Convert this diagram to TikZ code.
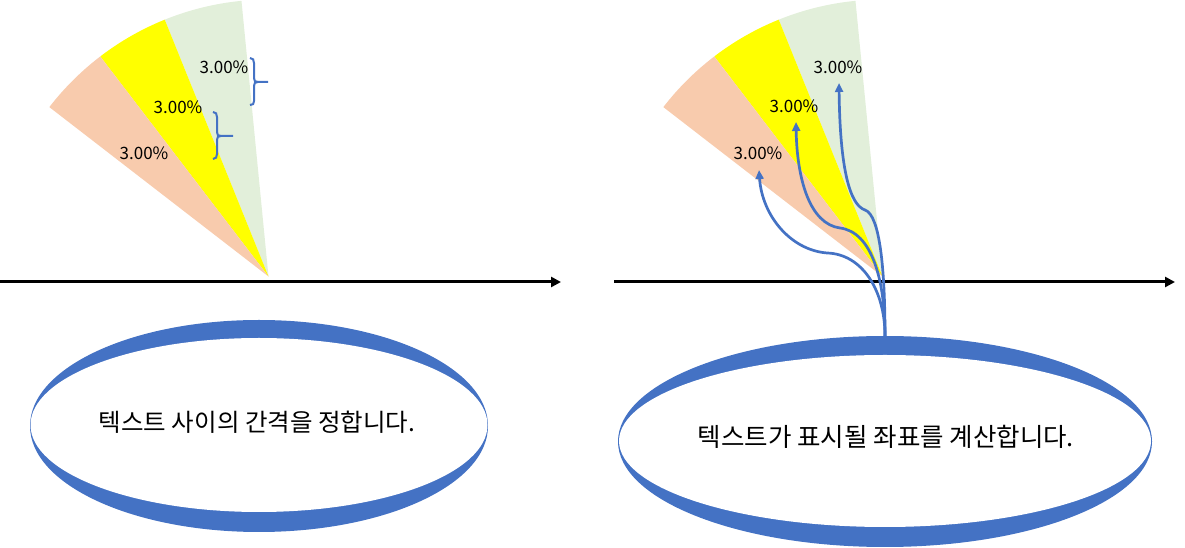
\documentclass[tikz,border=0pt]{standalone}
\usepackage{fontspec}
\newfontfamily\kr{Noto Sans CJK KR}
\usetikzlibrary{arrows.meta,shapes.geometric,calc}
\definecolor{peach}{HTML}{F8CBAD}
\definecolor{yel}{HTML}{FFFF00}
\definecolor{lgreen}{HTML}{E2EFDA}
\definecolor{pblue}{HTML}{4472C4}
\begin{document}
\begin{tikzpicture}[x=1pt,y=1pt,
  pct/.style={font=\kr\fontsize{17}{20}\selectfont, inner sep=0pt},
  axisline/.style={line width=3pt, -{Triangle[length=10pt,width=10pt]}},
  bracepath/.style={draw=pblue, line width=2pt},
  curv/.style={draw=pblue, line width=2.7pt, -{Triangle[length=9pt,width=8pt]}},
  outerell/.style={ellipse, fill=pblue, inner sep=0pt, outer sep=0pt},
  innerell/.style={ellipse, fill=white, inner sep=0pt, outer sep=0pt},
  msg/.style={font=\kr\fontsize{24.5}{28}\selectfont, inner sep=0pt}]
\useasboundingbox (0,0) rectangle (1185,548);

% wedges
\foreach \ax/\nm in {268.5/A, 882.5/B}{
  \coordinate (apex\nm) at (\ax,271.5);
  \fill[lgreen] (apex\nm) -- ++(95.6:277) arc[start angle=95.6,end angle=112,radius=277] -- cycle;
  \fill[yel] (apex\nm) -- ++(112:277) arc[start angle=112,end angle=127.4,radius=277] -- cycle;
  \fill[peach] (apex\nm) -- ++(127.4:277) arc[start angle=127.4,end angle=142.3,radius=277] -- cycle;
}

% axes
\coordinate (axL0) at (0,266);
\coordinate (axL1) at (561,266);
\coordinate (axR0) at (614,266);
\coordinate (axR1) at (1175,266);
\draw[axisline] (axL0) -- (axL1);
\draw[axisline] (axR0) -- (axR1);

% labels left
\node[pct] (lg) at (224,481) {3.00\%};
\node[pct] (ly) at (178,441) {3.00\%};
\node[pct] (lp) at (144,395) {3.00\%};
% labels right
\node[pct] (rg) at (838,481) {3.00\%};
\node[pct] (ry) at (794,442) {3.00\%};
\node[pct] (rp) at (758,395) {3.00\%};

% braces
\draw[bracepath] (250,490) .. controls (253,490) and (254,488) .. (254,485) -- (254,470)
  .. controls (254,467) and (255,466) .. (258,466) -- (268,466);
\draw[bracepath] (258,466) .. controls (255,466) and (254,465) .. (254,462) -- (254,447)
  .. controls (254,444) and (253,443) .. (250,443);
\draw[bracepath] (213,436) .. controls (216,436) and (217,434) .. (217,431) -- (217,416)
  .. controls (217,413) and (218,412) .. (221,412) -- (233,412);
\draw[bracepath] (221,412) .. controls (218,412) and (217,411) .. (217,408) -- (217,394)
  .. controls (217,391) and (216,389) .. (213,389);

% ellipses
\node[outerell, minimum width=458, minimum height=212] (eLo) at (259,122) {};
\node[innerell, minimum width=457, minimum height=174] (eLi) at (259,123) {};
\node[msg] (tL) at (257,126) {텍스트 사이의 간격을 정합니다.};

\node[outerell, minimum width=534, minimum height=211] (eRo) at (885,106.5) {};
\node[innerell, minimum width=532, minimum height=172] (eRi) at (885,107) {};
\node[msg, font=\kr\fontsize{25.5}{29}\selectfont] (tR) at (886,111) {텍스트가 표시될 좌표를 계산합니다.};

% curved arrows
\coordinate (s) at (eRo.north);
\coordinate (t1) at ($(rp.center)+(1,-17)$);
\coordinate (t2) at ($(ry.center)+(2,-16)$);
\coordinate (t3) at ($(rg.center)+(1,-16)$);
\draw[curv] (s) .. controls (885,258) and (862,294) .. (827,295)
  .. controls (790,298) and (762,333) .. (t1);
\draw[curv] (s) .. controls (885,268) and (872,316) .. (840,320)
  .. controls (810,324) and (797,368) .. (t2);
\draw[curv] (s) .. controls (885,278) and (880,333) .. (865,338)
  .. controls (850,343) and (840,378) .. (t3);
\end{tikzpicture}
\end{document}
